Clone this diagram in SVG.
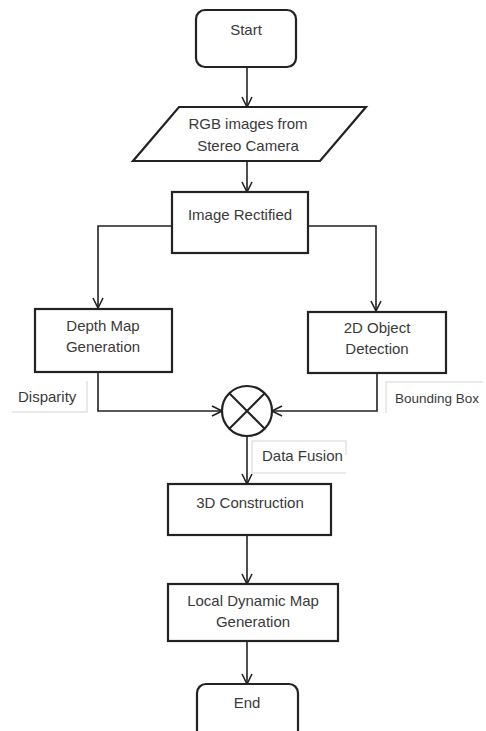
<svg xmlns="http://www.w3.org/2000/svg" width="486" height="731" viewBox="0 0 486 731">
<defs>
<marker id="arr" viewBox="0 0 12 12" refX="11" refY="6" markerWidth="12" markerHeight="12" markerUnits="userSpaceOnUse" orient="auto">
<path d="M1,1 L11,6 L1,11" fill="none" stroke="#222" stroke-width="1.6"/>
</marker>
<style>
.n{fill:#fff;stroke:#222;stroke-width:2.2}
.t{font-family:"Liberation Sans",Arial,sans-serif;font-size:15px;fill:#3a3a3a;text-anchor:middle}
.lt{font-family:"Liberation Sans",Arial,sans-serif;font-size:15px;fill:#3a3a3a}
.c{fill:none;stroke:#222;stroke-width:1.6}
.f{fill:none;stroke:#e4e4e4;stroke-width:1.5}
</style>
</defs>
<rect width="486" height="731" fill="#fff"/>
<g id="connectors">
<path class="c" d="M247,67 V107" marker-end="url(#arr)"/>
<path class="c" d="M247,161 V192" marker-end="url(#arr)"/>
<path class="c" d="M172,226 H98 V308" marker-end="url(#arr)"/>
<path class="c" d="M308,226 H376 V311" marker-end="url(#arr)"/>
<path class="c" d="M98,372 V411 H222" marker-end="url(#arr)"/>
<path class="c" d="M377,373 V411 H272" marker-end="url(#arr)"/>
<path class="c" d="M247,436 V484" marker-end="url(#arr)"/>
<path class="c" d="M247,535 V584" marker-end="url(#arr)"/>
<path class="c" d="M247,641 V684" marker-end="url(#arr)"/>
</g>
<g id="start"><rect class="n" x="196" y="10" width="100" height="57" rx="9"/><text class="t" x="246" y="35">Start</text></g>
<g id="rgb"><polygon class="n" points="179,107 366,107 320,161 133,161"/><text class="t" x="248" y="129">RGB images from</text><text class="t" x="248" y="151">Stereo Camera</text></g>
<g id="rectified"><rect class="n" x="172" y="192" width="136" height="61"/><text class="t" x="240" y="220">Image Rectified</text></g>
<g id="depth"><rect class="n" x="35" y="309" width="137" height="63"/><text class="t" x="103" y="331">Depth Map</text><text class="t" x="103" y="352">Generation</text></g>
<g id="detect"><rect class="n" x="308" y="312" width="138" height="61"/><text class="t" x="377" y="333">2D Object</text><text class="t" x="377" y="354">Detection</text></g>
<g id="fusion"><circle class="n" cx="247" cy="411" r="25"/><path class="c" d="M229.3,393.3 L264.7,428.7 M264.7,393.3 L229.3,428.7" style="stroke-width:2"/></g>
<g id="lbl-disparity"><path class="f" d="M87,381 V412 H12"/><text class="lt" x="18" y="402">Disparity</text></g>
<g id="lbl-bbox"><path class="f" d="M386,413 V382 H483"/><text class="lt" x="395" y="403" style="font-size:13.5px">Bounding Box</text></g>
<g id="lbl-fusion"><path class="f" d="M346,455 V441 H252 V473 H346"/><text class="lt" x="262" y="461">Data Fusion</text></g>
<g id="construct"><rect class="n" x="168" y="484" width="163" height="51"/><text class="t" x="250" y="508">3D Construction</text></g>
<g id="ldm"><rect class="n" x="168" y="584" width="170" height="57"/><text class="t" x="253" y="606">Local Dynamic Map</text><text class="t" x="253" y="627">Generation</text></g>
<g id="end"><rect class="n" x="197" y="684" width="101" height="60" rx="9"/><text class="t" x="247" y="708">End</text></g>
</svg>
